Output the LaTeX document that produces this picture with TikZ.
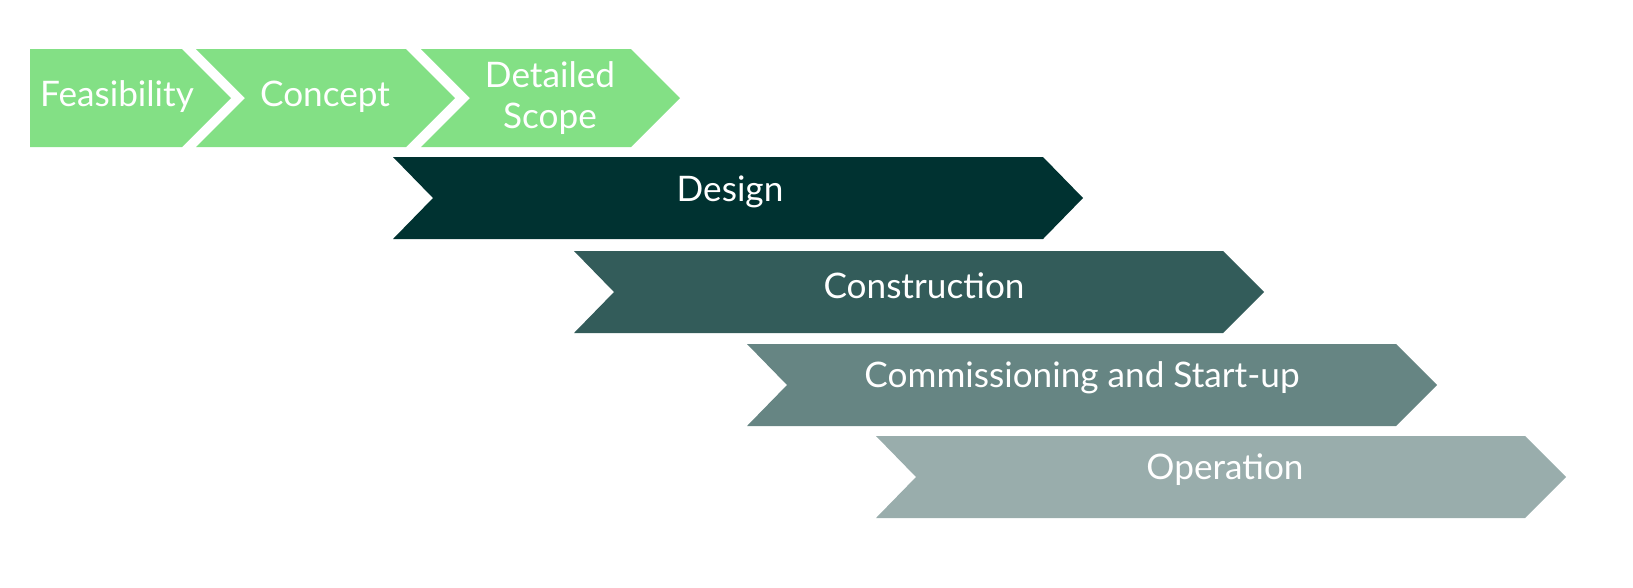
\documentclass[tikz,border=0pt]{standalone}
\usepackage{fontspec}
\setmainfont{Lato}
\usetikzlibrary{positioning}
\definecolor{phasegreen}{HTML}{83E085}
\definecolor{phaseA}{HTML}{003231}
\definecolor{phaseB}{HTML}{335C5A}
\definecolor{phaseC}{HTML}{668583}
\definecolor{phaseD}{HTML}{99ADAC}
\tikzset{phasetext/.style={text=white,font=\fontsize{10}{11.5}\selectfont,align=center,inner sep=0pt}}

\begin{document}
\begin{tikzpicture}[x=0.01cm,y=-0.01cm]
\useasboundingbox (0,0) rectangle (1633,587);

\fill[phasegreen] (30,49) -- (182,49) -- (231,98) -- (182,147) -- (30,147) -- cycle;
\fill[phasegreen] (196,49) -- (406,49) -- (455,98) -- (406,147) -- (196,147) -- (245,98) -- cycle;
\fill[phasegreen] (421,49) -- (631,49) -- (680,98) -- (631,147) -- (421,147) -- (470,98) -- cycle;
\fill[phaseA] (393,157) -- (1043,157) -- (1083,198) -- (1043,239) -- (393,239) -- (433,198) -- cycle;
\fill[phaseB] (574,251) -- (1223,251) -- (1264,292) -- (1223,333) -- (574,333) -- (614,292) -- cycle;
\fill[phaseC] (747,344) -- (1396,344) -- (1437,385) -- (1396,426) -- (747,426) -- (787,385) -- cycle;
\fill[phaseD] (876,436) -- (1525,436) -- (1566,477) -- (1525,518) -- (876,518) -- (916,477) -- cycle;

\node[phasetext] (feas) at (117,97) {Feasibility};
\node[phasetext] (conc) at (325,97) {Concept};
\node[phasetext] (scope) at (550,98) {Detailed\\Scope};
\node[phasetext] (design) at (730,192) {Design};
\node[phasetext] (constr) at (924,286) {Construction};
\node[phasetext] (comm) at (1082,378) {Commissioning and Start-up};
\node[phasetext] (oper) at (1225,470) {Operation};

\end{tikzpicture}
\end{document}
